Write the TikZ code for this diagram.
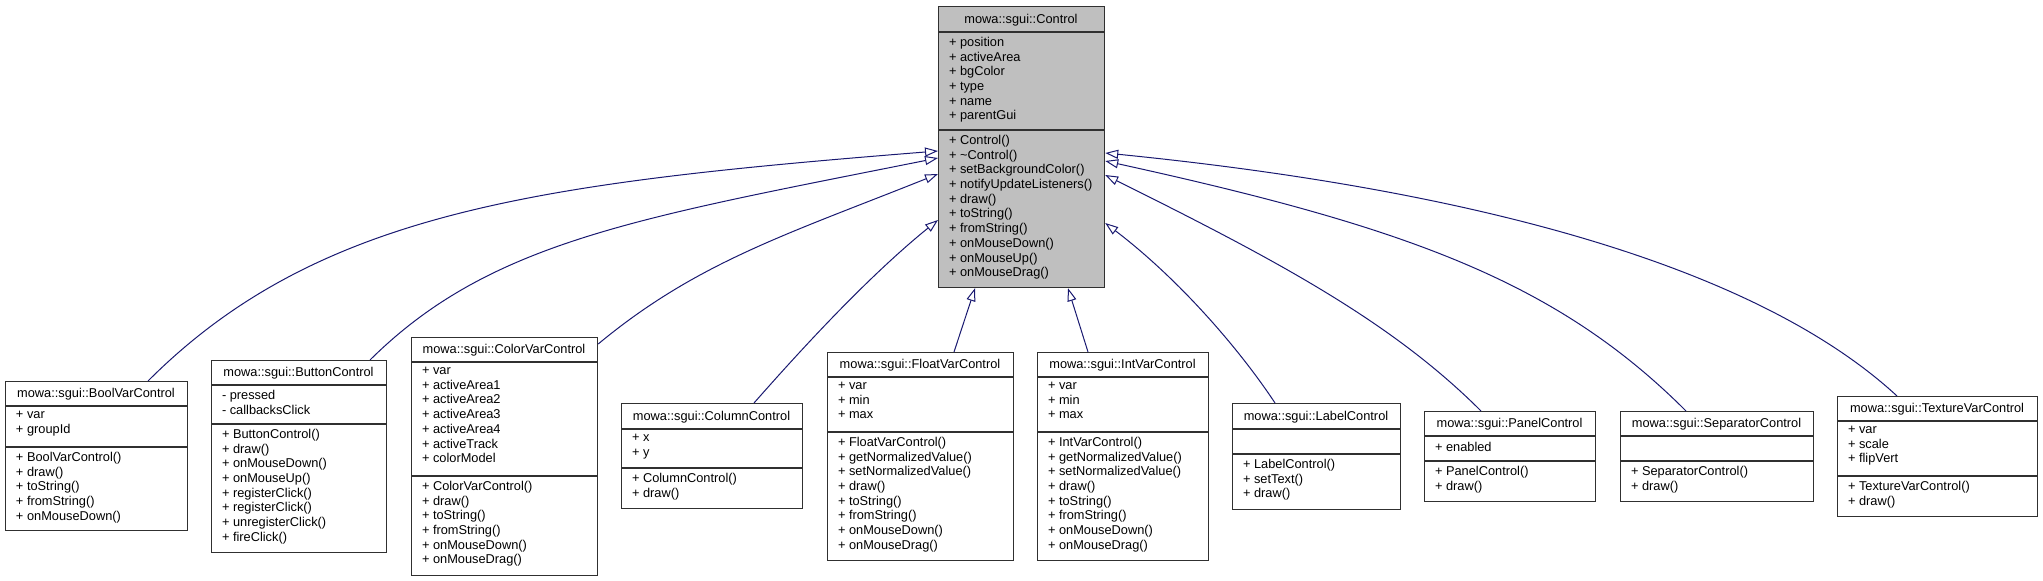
\documentclass[tikz,border=0pt]{standalone}
\usepackage{fontspec}
\newfontfamily\umlfont{Liberation Sans}
\usetikzlibrary{arrows.meta,positioning}

\definecolor{edgeblue}{HTML}{191970}
\definecolor{basegray}{HTML}{BFBFBF}
\definecolor{framegray}{HTML}{303030}

\tikzset{
  classframe/.style={draw=framegray, line width=0.6pt, inner sep=0pt, anchor=north west},
  divider/.style={draw=framegray, line width=0.6pt},
  classname/.style={font=\umlfont\fontsize{6.4pt}{7.35pt}\selectfont, inner sep=0pt, text height=4.6pt, text depth=0pt},
  members/.style={font=\umlfont\fontsize{6.4pt}{7.35pt}\selectfont, anchor=north west, align=left,
    inner xsep=5.3pt, inner ysep=2.4pt, execute at begin node=\strut},
  inherit/.style={draw=edgeblue, line width=0.5pt, -{Triangle[open, length=6.5pt, width=4.5pt]}},
}

% name, left, right, top, title line, attribute line, bottom, fill, title
\newcommand{\classbox}[9]{%
  \node[classframe, fill=#8, minimum width={(#3-#2)*0.5pt}, minimum height={(#7-#4)*0.5pt}] (#1) at (#2,#4) {};
  \draw[divider] (#2,#5) -- (#3,#5);
  \draw[divider] (#2,#6) -- (#3,#6);
  \node[classname] (#1-name) at ({(#2+#3)/2},{(#4+#5)/2-0.5}) {#9};
  \coordinate (#1-attr) at (#2,#5);
  \coordinate (#1-ops) at (#2,#6);
}

\begin{document}
\begin{tikzpicture}[x=0.5pt, y=-0.5pt]
    \useasboundingbox (0,0) rectangle (2043,581);

    % base class
    \classbox{ctrl}{938}{1104}{6}{32}{130}{287}{basegray}{mowa::sgui::Control}
    \node[members] at (ctrl-attr) {+ position\\+ activeArea\\+ bgColor\\+ type\\+ name\\+ parentGui};
    \node[members] at (ctrl-ops) {+ Control()\\+ \textasciitilde Control()\\+ setBackgroundColor()\\+ notifyUpdateListeners()\\+ draw()\\+ toString()\\+ fromString()\\+ onMouseDown()\\+ onMouseUp()\\+ onMouseDrag()};

    % derived classes
    \classbox{bool}{5}{187}{381}{406}{447}{530}{white}{mowa::sgui::BoolVarControl}
    \node[members] at (bool-attr) {+ var\\+ groupId};
    \node[members] at (bool-ops) {+ BoolVarControl()\\+ draw()\\+ toString()\\+ fromString()\\+ onMouseDown()};

    \classbox{button}{211}{386}{360}{385}{424}{552}{white}{mowa::sgui::ButtonControl}
    \node[members] at (button-attr) {- pressed\\- callbacksClick};
    \node[members] at (button-ops) {+ ButtonControl()\\+ draw()\\+ onMouseDown()\\+ onMouseUp()\\+ registerClick()\\+ registerClick()\\+ unregisterClick()\\+ fireClick()};

    \classbox{color}{411}{597}{337}{362}{476}{575}{white}{mowa::sgui::ColorVarControl}
    \node[members] at (color-attr) {+ var\\+ activeArea1\\+ activeArea2\\+ activeArea3\\+ activeArea4\\+ activeTrack\\+ colorModel};
    \node[members] at (color-ops) {+ ColorVarControl()\\+ draw()\\+ toString()\\+ fromString()\\+ onMouseDown()\\+ onMouseDrag()};

    \classbox{column}{621}{802}{403}{429}{468}{508}{white}{mowa::sgui::ColumnControl}
    \node[members] at (column-attr) {+ x\\+ y};
    \node[members] at (column-ops) {+ ColumnControl()\\+ draw()};

    \classbox{float}{827}{1013}{352}{377}{432}{560}{white}{mowa::sgui::FloatVarControl}
    \node[members] at (float-attr) {+ var\\+ min\\+ max};
    \node[members] at (float-ops) {+ FloatVarControl()\\+ getNormalizedValue()\\+ setNormalizedValue()\\+ draw()\\+ toString()\\+ fromString()\\+ onMouseDown()\\+ onMouseDrag()};

    \classbox{int}{1037}{1208}{352}{377}{432}{560}{white}{mowa::sgui::IntVarControl}
    \node[members] at (int-attr) {+ var\\+ min\\+ max};
    \node[members] at (int-ops) {+ IntVarControl()\\+ getNormalizedValue()\\+ setNormalizedValue()\\+ draw()\\+ toString()\\+ fromString()\\+ onMouseDown()\\+ onMouseDrag()};

    \classbox{label}{1232}{1400}{403}{429}{454}{509}{white}{mowa::sgui::LabelControl}
    \node[members] at (label-ops) {+ LabelControl()\\+ setText()\\+ draw()};

    \classbox{panel}{1424}{1595}{411}{436}{461}{501}{white}{mowa::sgui::PanelControl}
    \node[members] at (panel-attr) {+ enabled};
    \node[members] at (panel-ops) {+ PanelControl()\\+ draw()};

    \classbox{separator}{1620}{1813}{411}{436}{461}{501}{white}{mowa::sgui::SeparatorControl}
    \node[members] at (separator-ops) {+ SeparatorControl()\\+ draw()};

    \classbox{texture}{1837}{2037}{396}{421}{476}{516}{white}{mowa::sgui::TextureVarControl}
    \node[members] at (texture-attr) {+ var\\+ scale\\+ flipVert};
    \node[members] at (texture-ops) {+ TextureVarControl()\\+ draw()};

    % inheritance edges
    \draw[inherit] (148,0 |- bool.north) .. controls (318,211) and (538,183) .. (ctrl.west |- 0,151);
    \draw[inherit] (370,0 |- button.north) .. controls (490,241) and (638,218) .. (ctrl.west |- 0,158);
    \draw[inherit] (color.east |- 0,344) .. controls (697,262) and (788,234) .. (ctrl.west |- 0,174);
    \draw[inherit] (754,0 |- column.north) .. controls (805,345) and (870,275) .. (ctrl.west |- 0,220);
    \draw[inherit] (954,0 |- float.north) -- (975,0 |- ctrl.south);
    \draw[inherit] (1088,0 |- int.north) -- (1068,0 |- ctrl.south);
    \draw[inherit] (1275,0 |- label.north) .. controls (1240,350) and (1180,280) .. (ctrl.east |- 0,223);
    \draw[inherit] (1481,0 |- panel.north) .. controls (1391,321) and (1276,260) .. (ctrl.east |- 0,175);
    \draw[inherit] (1686,0 |- separator.north) .. controls (1556,281) and (1406,227) .. (ctrl.east |- 0,161);
    \draw[inherit] (1897,0 |- texture.north) .. controls (1767,276) and (1506,193) .. (ctrl.east |- 0,153);
\end{tikzpicture}
\end{document}
